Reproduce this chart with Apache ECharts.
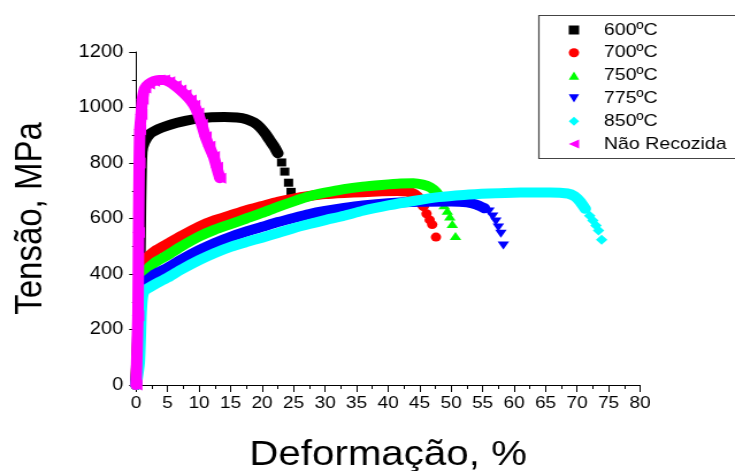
<!DOCTYPE html>
<html>
<head>
<meta charset="utf-8">
<script src="https://cdn.jsdelivr.net/npm/echarts@6/dist/echarts.min.js"></script>
<style>
  html, body { margin: 0; padding: 0; background: #fff; overflow: hidden; width: 735px; height: 471px; }
  #chart { width: 700px; height: 471px; transform: scaleX(1.1502); transform-origin: 0 0; }
</style>
</head>
<body>
<div id="chart"></div>
<script>
// ---- data (strain %, stress MPa) ----
const xTicks = [0, 5, 10, 15, 20, 25, 30, 35, 40, 45, 50, 55, 60, 65, 70, 75, 80];
const yTicks = [0, 200, 400, 600, 800, 1000, 1200];
const names = ['600ºC', '700ºC', '750ºC', '775ºC', '850ºC', 'Não Recozida'];

const strain600 = [0, 0.5, 0.7, 0.9, 1.3, 2.2, 3.5, 5, 6.5, 8, 10, 12, 14, 16, 17.5, 18.7, 19.7, 20.5, 21.2, 21.9, 22.5];
const stress600 = [0, 300, 650, 840, 875, 905, 922, 935, 945, 953, 961, 965, 966, 964, 958, 946, 928, 906, 883, 860, 835];
const tailStrain600 = [23.1, 23.6, 24.2, 24.6];
const tailStress600 = [802, 769, 729, 696];

const strain700 = [0, 0.4, 0.7, 0.9, 1.3, 2, 3, 5, 7, 10, 12.5, 15, 17.5, 20, 22.5, 25, 27.5, 30, 33, 36, 39, 41.5, 43, 44.2, 45, 45.6];
const stress700 = [0, 200, 400, 440, 450, 465, 483, 509, 535, 571, 594, 612, 630, 645, 660, 672, 681, 688, 692, 695, 698, 699, 697, 688, 670, 645];
const tailStrain700 = [46.1, 46.6, 47.0, 47.6];
const tailStress700 = [617, 595, 578, 533];

const strain750 = [0, 0.4, 0.7, 0.9, 1.3, 2, 3, 5, 7, 10, 12.5, 15, 17.5, 20, 22.5, 25, 27.5, 30, 33, 36, 39, 42, 44, 45.5, 46.7, 47.6, 48.3];
const stress750 = [0, 180, 370, 400, 408, 422, 442, 468, 497, 535, 560, 580, 600, 620, 642, 662, 680, 693, 706, 715, 721, 726, 727, 722, 712, 695, 672];
const tailStrain750 = [48.9, 49.4, 49.8, 50.2, 50.7];
const tailStress750 = [648, 628, 607, 580, 537];

const strain775 = [0, 0.4, 0.7, 0.9, 1.3, 2, 3, 5, 7, 10, 12.5, 15, 17.5, 20, 22.5, 25, 27.5, 30, 33, 36, 40, 45, 50, 52.5, 54, 55.3];
const stress775 = [0, 150, 330, 362, 369, 382, 400, 423, 450, 486, 512, 534, 553, 570, 587, 602, 616, 627, 638, 647, 655, 660, 661, 658, 650, 637];
const tailStrain775 = [56.0, 56.6, 57.1, 57.5, 57.9, 58.3];
const tailStress775 = [625, 607, 589, 568, 545, 503];

const strain850 = [0, 0.5, 0.8, 1.0, 1.3, 2, 3, 5, 7, 10, 12.5, 15, 17.5, 20, 22.5, 25, 27.5, 30, 33, 36, 40, 44, 48, 52, 56, 61, 65.7, 68.5, 69.6, 70.5, 71.3];
const stress850 = [0, 80, 260, 318, 339, 350, 363, 387, 414, 450, 476, 498, 515, 531, 548, 565, 580, 594, 610, 628, 647, 663, 677, 685, 690, 694, 694, 690, 680, 660, 635];
const tailStrain850 = [72.0, 72.5, 73.0, 73.4, 73.9];
const tailStress850 = [610, 593, 575, 557, 523];

const strainNR = [0, 0.3, 0.4, 0.5, 0.6, 0.8, 1.0, 1.4, 2.0, 2.8, 3.6, 4.4, 5.2, 6.2, 7.0, 7.8, 8.6, 9.2, 9.8, 10.4, 11.0, 11.6, 12.3, 12.8, 13.3];
const stressNR = [0, 250, 550, 800, 920, 975, 1030, 1070, 1085, 1095, 1099, 1099, 1093, 1078, 1063, 1046, 1027, 1008, 980, 940, 895, 860, 823, 785, 745];

// ---- styling ----
const colors = ['#000000', '#ff0000', '#00ff00', '#0000ff', '#00ffff', '#ff00ff'];
const symbols = [
  'rect',
  'circle',
  'path://M5,0 L10,9 L0,9 Z',
  'path://M0,0 L10,0 L5,9 Z',
  'diamond',
  'path://M10,0 L0,5 L10,10 Z'
];
const FONT = '"Liberation Sans", Arial, sans-serif';

function pairs(xs, ys) { return xs.map((x, i) => [x, ys[i]]); }

const bands = [
  [strain600, stress600, tailStrain600, tailStress600],
  [strain700, stress700, tailStrain700, tailStress700],
  [strain750, stress750, tailStrain750, tailStress750],
  [strain775, stress775, tailStrain775, tailStress775],
  [strain850, stress850, tailStrain850, tailStress850],
  [strainNR, stressNR, [], []]
];
const tailSizes = [8, 9, [10, 8], [10, 8], [10, 10], [9, 10]];

const series = [];
bands.forEach((b, i) => {
  series.push({
    name: names[i], type: 'line', data: pairs(b[0], b[1]),
    showSymbol: i === 5, symbol: symbols[i], symbolSize: 11,
    itemStyle: { color: colors[i] },
    lineStyle: { color: colors[i], width: 10, cap: 'round', join: 'round' },
    smooth: 0.2, silent: true, z: 2 + i
  });
  if (b[2].length) {
    series.push({
      name: names[i], type: 'scatter', data: pairs(b[2], b[3]),
      symbol: symbols[i], symbolSize: tailSizes[i],
      itemStyle: { color: colors[i], opacity: 1 }, silent: true, z: 2 + i
    });
  }
});

const chart = echarts.init(document.getElementById('chart'), null, { renderer: 'canvas' });
chart.setOption({
  animation: false,
  backgroundColor: '#ffffff',
  textStyle: { fontFamily: FONT },
  grid: { left: 118.3, right: 143.5, top: 52, bottom: 86, containLabel: false, outerBoundsMode: 'none' },
  xAxis: {
    type: 'value', min: xTicks[0], max: xTicks[xTicks.length - 1], interval: 5,
    name: 'Deformação, %', nameLocation: 'middle', nameGap: 53,
    nameTextStyle: { fontSize: 35, color: '#000', fontFamily: FONT },
    axisLine: { show: true, onZero: false, lineStyle: { color: '#000', width: 1 } },
    axisTick: { show: true, inside: false, length: 7, lineStyle: { color: '#000' } },
    minorTick: { show: true, splitNumber: 2, length: 4, lineStyle: { color: '#000' } },
    axisLabel: { fontSize: 16.5, color: '#000', margin: 10, fontFamily: FONT, formatter: v => String(v) },
    splitLine: { show: false }
  },
  yAxis: {
    type: 'value', min: yTicks[0], max: yTicks[yTicks.length - 1], interval: 200,
    name: 'Tensão, MPa', nameLocation: 'middle', nameGap: 75, nameRotate: 90,
    nameTextStyle: { fontSize: 33, color: '#000', fontFamily: FONT },
    axisLine: { show: true, lineStyle: { color: '#000', width: 1 } },
    axisTick: { show: true, inside: false, length: 6, lineStyle: { color: '#000' } },
    minorTick: { show: true, splitNumber: 2, length: 3.5, lineStyle: { color: '#000' } },
    axisLabel: { fontSize: 17.5, color: '#000', margin: 11, fontFamily: FONT, formatter: v => String(v) },
    splitLine: { show: false }
  },
  legend: {
    orient: 'vertical', left: 494.5, top: 21.5, padding: 0,
    itemWidth: 9, itemHeight: 9, itemGap: 5.8, symbolKeepAspect: true,
    textStyle: { fontSize: 17, color: '#000', fontFamily: FONT, lineHeight: 17, padding: [0, 0, 0, 16.5] },
    data: names.map((n, i) => ({ name: n, icon: symbols[i], itemStyle: { color: colors[i] } })),
    selectedMode: false
  },
  graphic: [{
    type: 'rect', left: 466, top: 13, z: 0,
    shape: { width: 200, height: 143 },
    style: { fill: 'none', stroke: '#444', lineWidth: 1.2 }
  }],
  series: series
});
</script>
</body>
</html>
